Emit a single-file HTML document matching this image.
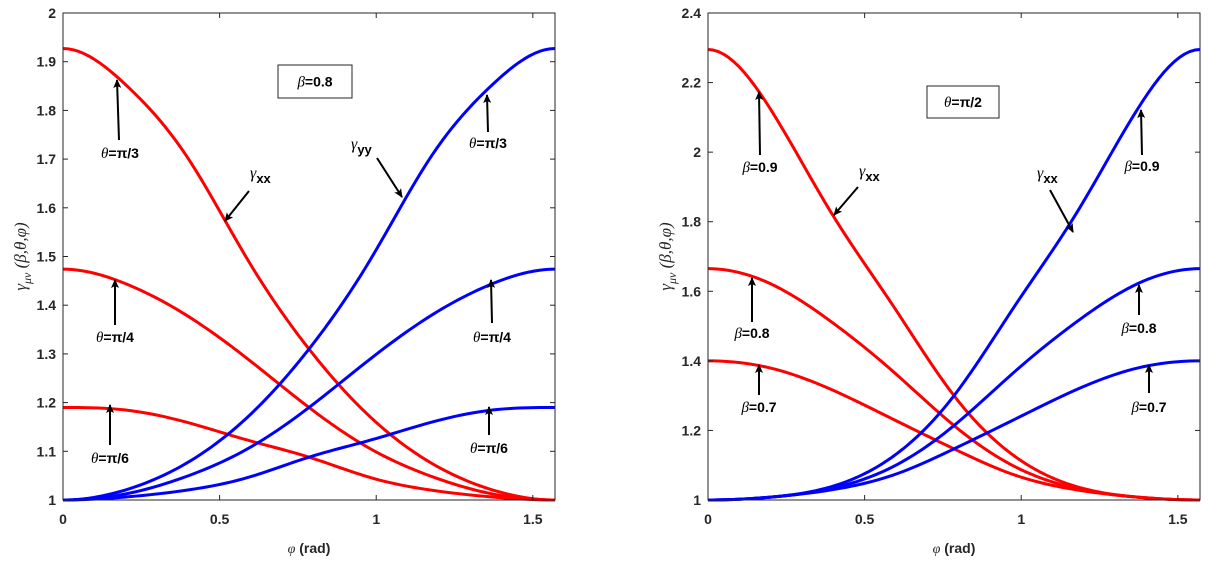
<!DOCTYPE html>
<html><head><meta charset="utf-8"><style>
body{margin:0;background:#fff;}
svg{display:block;font-family:"Liberation Sans",Arial,sans-serif;}
.tk{font-size:14px;font-weight:bold;fill:#262626;}
.an{font-size:14px;font-weight:bold;fill:#000;}
</style></head><body>
<svg id="chart" width="1217" height="565" viewBox="0 0 1217 565" xmlns="http://www.w3.org/2000/svg">
<defs><marker id="ah" markerWidth="10" markerHeight="10" refX="8" refY="4" orient="auto" markerUnits="userSpaceOnUse"><path d="M0,0 L9,4 L0,8 L2,4 Z" fill="#000"/></marker></defs>
<g id="left"></g>
<g id="right"></g>
</svg>
<script>
// phi samples (k*pi/16)
const phiSamples = [0, 0.19635, 0.3927, 0.58905, 0.7854, 0.98175, 1.1781, 1.37445, 1.5708];
// Left panel: beta=0.8
const leftXX_pi3 = [1.927, 1.855, 1.708, 1.494, 1.31, 1.17, 1.075, 1.02, 1.0];
const leftXX_pi4 = [1.474, 1.445, 1.38, 1.29, 1.19, 1.105, 1.048, 1.012, 1.0];
const leftXX_pi6 = [1.19, 1.185, 1.16, 1.123, 1.088, 1.046, 1.02, 1.006, 1.0];
const leftYY_pi3 = [1.0, 1.02, 1.075, 1.17, 1.31, 1.494, 1.708, 1.855, 1.927];
const leftYY_pi4 = [1.0, 1.012, 1.048, 1.105, 1.19, 1.29, 1.38, 1.445, 1.474];
const leftYY_pi6 = [1.0, 1.006, 1.02, 1.046, 1.088, 1.123, 1.16, 1.185, 1.19];
// Right panel: theta=pi/2
const rightXX_b9 = [2.295, 2.128, 1.827, 1.561, 1.30, 1.124, 1.038, 1.008, 1.0];
const rightXX_b8 = [1.665, 1.623, 1.513, 1.371, 1.214, 1.095, 1.033, 1.008, 1.0];
const rightXX_b7 = [1.40, 1.380, 1.318, 1.233, 1.147, 1.071, 1.029, 1.008, 1.0];
const rightYY_b9 = [1.0, 1.008, 1.038, 1.124, 1.30, 1.561, 1.827, 2.128, 2.295];
const rightYY_b8 = [1.0, 1.008, 1.033, 1.095, 1.214, 1.371, 1.513, 1.623, 1.665];
const rightYY_b7 = [1.0, 1.008, 1.029, 1.071, 1.147, 1.233, 1.318, 1.380, 1.40];
const xTicks = [0, 0.5, 1, 1.5];
const xTickLabels = ["0", "0.5", "1", "1.5"];
const leftYTicks = [1, 1.1, 1.2, 1.3, 1.4, 1.5, 1.6, 1.7, 1.8, 1.9, 2];
const leftYTickLabels = ["1","1.1","1.2","1.3","1.4","1.5","1.6","1.7","1.8","1.9","2"];
const rightYTicks = [1, 1.2, 1.4, 1.6, 1.8, 2, 2.2, 2.4];
const rightYTickLabels = ["1","1.2","1.4","1.6","1.8","2","2.2","2.4"];

const NS = "http://www.w3.org/2000/svg";
function mk(tag, attrs, parent){const e=document.createElementNS(NS,tag);for(const k in attrs)e.setAttribute(k,attrs[k]);parent.appendChild(e);return e;}

// clamped cubic spline (zero slope at both ends), sampled densely
function splinePath(xs, ys){
  const n=xs.length, h=[];
  for(let i=0;i<n-1;i++)h[i]=xs[i+1]-xs[i];
  const a=new Array(n).fill(0), b=new Array(n).fill(0), c=new Array(n).fill(0), r=new Array(n).fill(0);
  b[0]=2*h[0]; c[0]=h[0]; r[0]=6*((ys[1]-ys[0])/h[0]-0);
  for(let i=1;i<n-1;i++){a[i]=h[i-1];b[i]=2*(h[i-1]+h[i]);c[i]=h[i];r[i]=6*((ys[i+1]-ys[i])/h[i]-(ys[i]-ys[i-1])/h[i-1]);}
  a[n-1]=h[n-2]; b[n-1]=2*h[n-2]; r[n-1]=6*(0-(ys[n-1]-ys[n-2])/h[n-2]);
  for(let i=1;i<n;i++){const w=a[i]/b[i-1];b[i]-=w*c[i-1];r[i]-=w*r[i-1];}
  const M=new Array(n); M[n-1]=r[n-1]/b[n-1];
  for(let i=n-2;i>=0;i--)M[i]=(r[i]-c[i]*M[i+1])/b[i];
  let d="";
  for(let i=0;i<n-1;i++){
    for(let k=0;k<=12;k++){
      if(i>0&&k===0)continue;
      const t=k/12, x=xs[i]+t*h[i], A=1-t, B=t;
      const y=A*ys[i]+B*ys[i+1]+((A*A*A-A)*M[i]+(B*B*B-B)*M[i+1])*h[i]*h[i]/6;
      d+=(d?" L":"M")+x.toFixed(2)+","+y.toFixed(2);
    }
  }
  return d;
}

function panel(g, x0, x1, y0, y1, ymin, ymax, yTicks, yLabels, series){
  const X = v => x0 + v/1.5708*(x1-x0);
  const Y = v => y1 - (v-ymin)/(ymax-ymin)*(y1-y0);
  series.forEach(s=>{
    const xs = phiSamples.map(X), ys = s.vals.map(Y);
    const p = mk("path",{d:splinePath(xs,ys),fill:"none",stroke:s.color,"stroke-width":3,"stroke-linejoin":"round"},g);
    
    
  });
  const box = mk("rect",{x:x0,y:y0,width:x1-x0,height:y1-y0,fill:"none",stroke:"#262626","stroke-width":1},g);
  
  
  xTicks.forEach((t,i)=>{
    const x=X(t);
    mk("line",{x1:x,y1:y1,x2:x,y2:y1-5,stroke:"#262626"},g);
    mk("line",{x1:x,y1:y0,x2:x,y2:y0+5,stroke:"#262626"},g);
    const tx = mk("text",{x:x,y:y1+24,"text-anchor":"middle",class:"tk"},g);
    tx.textContent = xTickLabels[i];
    
    
  });
  yTicks.forEach((t,i)=>{
    const y=Y(t);
    mk("line",{x1:x0,y1:y,x2:x0+5,y2:y,stroke:"#262626"},g);
    mk("line",{x1:x1,y1:y,x2:x1-5,y2:y,stroke:"#262626"},g);
    const tx = mk("text",{x:x0-7,y:y+5,"text-anchor":"end",class:"tk"},g);
    tx.textContent = yLabels[i];
    
    
  });
  const xl = mk("text",{x:(x0+x1)/2,y:553,"text-anchor":"middle",class:"tk","font-size":"16"},g);
  xl.innerHTML = '<tspan font-style="italic" font-weight="normal" font-family="Liberation Serif">φ</tspan> (rad)';
  
  
  const yl = mk("text",{x:0,y:0,"text-anchor":"middle","font-size":"17","font-family":"Liberation Serif","font-style":"italic",fill:"#262626",transform:"translate("+(x0-37)+","+((y0+y1)/2)+") rotate(-90)"},g);
  yl.innerHTML = 'γ<tspan font-size="12" dy="5">μν</tspan><tspan dy="-5"> (β,θ,φ)</tspan>';
  
  
}

function arrow(g,x1,y1,x2,y2){
  const a = mk("line",{x1:x1,y1:y1,x2:x2,y2:y2,stroke:"#000","stroke-width":2,"marker-end":"url(#ah)"},g);
  
  
}
function label(g,x,y,sym,val){
  const t = mk("text",{x:x,y:y,"text-anchor":"middle",class:"an"},g);
  t.innerHTML = '<tspan font-family="Liberation Serif" font-style="italic" font-weight="normal" font-size="15">'+sym+'</tspan>='+val;
  
  
}
function gam(g,x,y,sub){
  const t = mk("text",{x:x,y:y,class:"an"},g);
  t.innerHTML = '<tspan font-family="Liberation Serif" font-style="italic" font-weight="normal" font-size="16">γ</tspan><tspan dy="5" font-size="13">'+sub+'</tspan>';
  
  
}
function boxLabel(g,x,y,w,h,sym,val){
  const r = mk("rect",{x:x,y:y,width:w,height:h,fill:"#fff",stroke:"#262626","stroke-width":1},g);
  
  
  label(g,x+w/2,y+h/2+5,sym,val);
}

const L=document.getElementById("left"), R=document.getElementById("right");
panel(L,63,555,13,500,1,2,leftYTicks,leftYTickLabels,[
 {name:"gamma-xx-theta-pi3",color:"#ff0000",vals:leftXX_pi3},
 {name:"gamma-xx-theta-pi4",color:"#ff0000",vals:leftXX_pi4},
 {name:"gamma-xx-theta-pi6",color:"#ff0000",vals:leftXX_pi6},
 {name:"gamma-yy-theta-pi3",color:"#0000ff",vals:leftYY_pi3},
 {name:"gamma-yy-theta-pi4",color:"#0000ff",vals:leftYY_pi4},
 {name:"gamma-yy-theta-pi6",color:"#0000ff",vals:leftYY_pi6}]);
panel(R,708,1200,13,500,1,2.4,rightYTicks,rightYTickLabels,[
 {name:"gamma-xx-beta-09",color:"#ff0000",vals:rightXX_b9},
 {name:"gamma-xx-beta-08",color:"#ff0000",vals:rightXX_b8},
 {name:"gamma-xx-beta-07",color:"#ff0000",vals:rightXX_b7},
 {name:"gamma-yy-beta-09",color:"#0000ff",vals:rightYY_b9},
 {name:"gamma-yy-beta-08",color:"#0000ff",vals:rightYY_b8},
 {name:"gamma-yy-beta-07",color:"#0000ff",vals:rightYY_b7}]);

// left annotations
arrow(L,119,140,117,80); label(L,120,158,"θ","π/3");
arrow(L,115,325,115,280); label(L,115,342,"θ","π/4");
arrow(L,110,445,110,405); label(L,110,463,"θ","π/6");
arrow(L,488,132,487,95); label(L,488,148,"θ","π/3");
arrow(L,492,323,491,280); label(L,492,342,"θ","π/4");
arrow(L,489,435,489,407); label(L,489,453,"θ","π/6");
gam(L,250,178,"xx"); arrow(L,249,191,225,221);
gam(L,351,149,"yy"); arrow(L,377,158,402,197);
boxLabel(L,278,65,74,33,"β","0.8");
// right annotations
arrow(R,760,155,759,92); label(R,760,172,"β","0.9");
arrow(R,752,322,752,278); label(R,752,338,"β","0.8");
arrow(R,759,395,759,365); label(R,759,412,"β","0.7");
arrow(R,1142,155,1141,110); label(R,1142,171,"β","0.9");
arrow(R,1139,315,1139,285); label(R,1139,333,"β","0.8");
arrow(R,1149,393,1149,365); label(R,1149,412,"β","0.7");
gam(R,859,176,"xx"); arrow(R,858,187,834,215);
gam(R,1037,178,"xx"); arrow(R,1050,190,1073,232);
boxLabel(R,927,86,72,32,"θ","π/2");
</script>
</body></html>
